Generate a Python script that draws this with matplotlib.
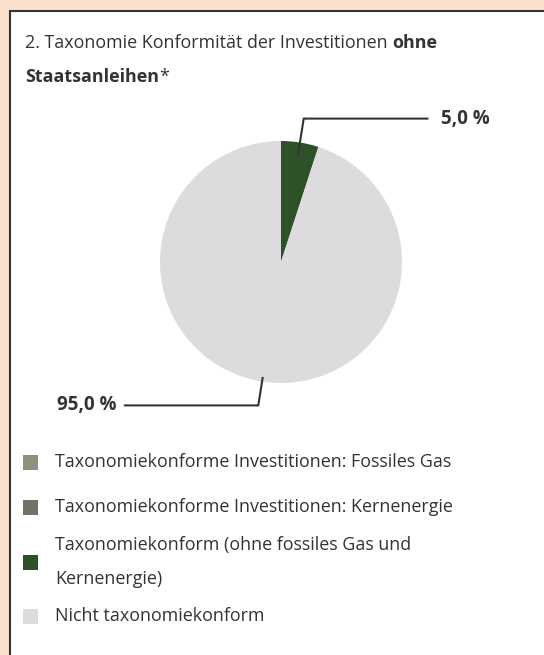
import numpy as np
import matplotlib.pyplot as plt
from matplotlib.patches import Rectangle
from matplotlib.text import Annotation

plt.rcParams['font.family'] = ['Open Sans', 'DejaVu Sans']

# Daten
categories = ['Taxonomiekonforme Investitionen: Fossiles Gas',
              'Taxonomiekonforme Investitionen: Kernenergie',
              'Taxonomiekonform (ohne fossiles Gas und\nKernenergie)',
              'Nicht taxonomiekonform']
values = [0.0, 0.0, 5.0, 95.0]
colors = ['#8f8f82', '#6e7563', '#2f5127', '#dcdcde']
value_labels = ['', '', '5,0 %', '95,0 %']

W, H = 544, 655
txt = '#333333'
fs = 12.9
fig = plt.figure(figsize=(W / 100, H / 100), dpi=100, facecolor='#f9e1cd')


def fx(x):
    return x / W


def fy(y):
    return 1 - y / H


# weisses Panel mit Rahmen
fig.add_artist(Rectangle((fx(10), fy(H + 20)), fx(W + 20), (H + 9) / H,
                         transform=fig.transFigure, facecolor='white',
                         edgecolor='#333333', linewidth=1.5, zorder=0))

# Titel
t1 = fig.text(fx(25), fy(48), '2. Taxonomie Konformität der Investitionen ',
              fontsize=fs, color=txt, va='baseline')
fig.add_artist(Annotation('ohne', xy=(1, 0), xycoords=t1, va='bottom',
                          fontsize=fs, fontweight='bold', color=txt))
t2 = fig.text(fx(25), fy(82), 'Staatsanleihen', fontsize=fs, fontweight='bold',
              color=txt, va='baseline')
fig.add_artist(Annotation('*', xy=(1, 0), xycoords=t2, va='bottom',
                          fontsize=fs, color=txt))

# Kreisdiagramm: Mittelpunkt (281, 262) px, Radius 121 px
R = 121
cx, cy = 281, 262
ax = fig.add_axes([fx(cx - 2 * R), fy(cy + 2 * R), 4 * R / W, 4 * R / H])
wedges, _ = ax.pie(values, colors=colors, startangle=90, counterclock=False,
                   wedgeprops=dict(linewidth=0))
ax.set_xlim(-2, 2)
ax.set_ylim(-2, 2)
ax.axis('off')

for w, lab in zip(wedges, value_labels):
    if not lab:
        continue
    mid = np.deg2rad((w.theta1 + w.theta2) / 2)
    dx, dy = np.cos(mid), np.sin(mid)
    r_in = 0.9 if dx > 0 else 0.97
    p0 = (r_in * dx, r_in * dy)
    p1 = (1.2 * dx, 1.2 * dy)
    if dx > 0:
        p2 = (1.21, p1[1])
        ax.text(1.32, p1[1], lab, ha='left', va='center', fontsize=13.5,
                fontweight='bold', color=txt)
    else:
        p2 = (-1.29, p1[1])
        ax.text(-1.36, p1[1], lab, ha='right', va='center', fontsize=13.5,
                fontweight='bold', color=txt)
    ax.plot([p0[0], p1[0], p2[0]], [p0[1], p1[1], p2[1]], color=txt,
            linewidth=1.5, clip_on=False, solid_joinstyle='miter')

# Legende
rows = [462, 507, 562, 616]
for y, c, lab in zip(rows, colors, categories):
    fig.add_artist(Rectangle((fx(23), fy(y + 7.5)), 15 / W, 15 / H,
                             transform=fig.transFigure, facecolor=c,
                             edgecolor='none'))
    fig.text(fx(55), fy(y), lab, fontsize=fs, color=txt, va='center',
             linespacing=2.15)

fig.savefig('out.png', dpi=100, facecolor=fig.get_facecolor())
